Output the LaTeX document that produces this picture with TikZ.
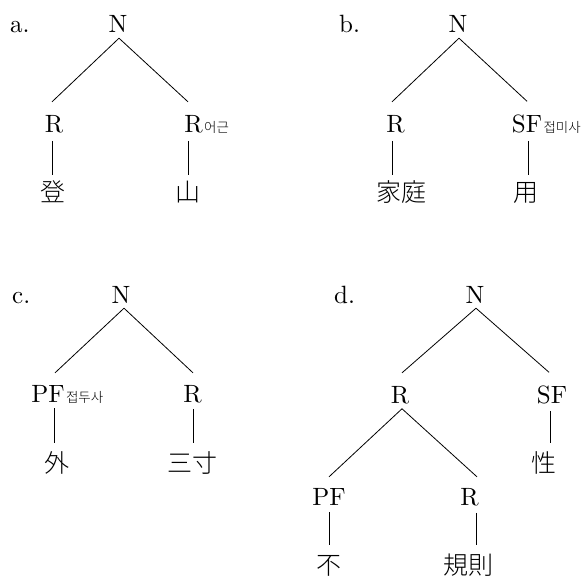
\documentclass[tikz,border=0pt]{standalone}
\usepackage{fontspec}
\newfontfamily\lmten{lmroman10-regular}[Extension=.otf]
\newfontfamily\cjk{Noto Sans CJK KR Light}
\begin{document}
\begin{tikzpicture}[x=1pt,y=-1pt,
 lab/.style={inner sep=0pt,anchor=base,font=\lmten\fontsize{25}{25}\selectfont},
 tag/.style={lab,anchor=base west},
 han/.style={inner sep=0pt,anchor=base,text height=21pt,text depth=0pt,font=\cjk\fontsize{25}{25}\selectfont},
 sub/.style={inner sep=0pt,anchor=base west,font=\cjk\fontsize{13.5}{13.5}\selectfont},
 edge/.style={line width=0.8pt}]
\useasboundingbox (0,0) rectangle (588,576);
% ---- a ----
\node[tag] (aL) at (10,32.5) {a.};
\node[lab] (aN) at (118,32.5) {N};
\node[lab] (aR1) at (54,132.5) {R};
\node[lab] (aR2) at (193.5,132.5) {R};
\node[sub] (aS2) at ([xshift=1pt]aR2.base east) {어근};
\node[han] (aH1) at (52.5,201) {登};
\node[han] (aH2) at (187.5,201) {山};
\draw[edge] ([xshift=1pt,yshift=-5.5pt]aN.south) -- ([xshift=-2pt,yshift=13.4pt]aR1.north);
\draw[edge] ([xshift=1pt,yshift=-5.5pt]aN.south) -- ([xshift=-5.5pt,yshift=13.4pt]aR2.north);
\draw[edge] ([xshift=-2pt,yshift=-7.5pt]aR1.south) -- ([xshift=-0.5pt,yshift=5pt]aH1.north);
\draw[edge] ([xshift=-5.5pt,yshift=-7.5pt]aR2.south) -- ([xshift=0.5pt,yshift=5pt]aH2.north);
% ---- b ----
\node[tag] (bL) at (339,32.5) {b.};
\node[lab] (bN) at (458,32.5) {N};
\node[lab] (bR1) at (395.5,132.5) {R};
\node[lab] (bSF) at (527,132.5) {SF};
\node[sub] (bS) at ([xshift=1pt]bSF.base east) {접미사};
\node[han] (bH1) at (401.5,201) {家庭};
\node[han] (bH2) at (526,201) {用};
\draw[edge] ([xshift=1pt,yshift=-5.5pt]bN.south) -- ([xshift=-3.5pt,yshift=13.4pt]bR1.north);
\draw[edge] ([xshift=1pt,yshift=-5.5pt]bN.south) -- ([xshift=0pt,yshift=13.4pt]bSF.north);
\draw[edge] ([xshift=-3.5pt,yshift=-7.5pt]bR1.south) -- ([xshift=-9.5pt,yshift=5pt]bH1.north);
\draw[edge] ([xshift=1pt,yshift=-7.5pt]bSF.south) -- ([xshift=2pt,yshift=5pt]bH2.north);
% ---- c ----
\node[tag] (cL) at (12,303) {c.};
\node[lab] (cN) at (121,303) {N};
\node[lab] (cPF) at (48,402.5) {PF};
\node[sub] (cS) at ([xshift=1pt]cPF.base east) {접두사};
\node[lab] (cR) at (192.5,402.5) {R};
\node[han] (cH1) at (57,472) {外};
\node[han] (cH2) at (192,472) {三寸};
\draw[edge] ([xshift=3pt,yshift=-5pt]cN.south) -- ([xshift=7pt,yshift=12.4pt]cPF.north);
\draw[edge] ([xshift=3pt,yshift=-5pt]cN.south) -- ([xshift=0.5pt,yshift=12.4pt]cR.north);
\draw[edge] ([xshift=6pt,yshift=-5.5pt]cPF.south) -- ([xshift=-3pt,yshift=8pt]cH1.north);
\draw[edge] ([xshift=0.5pt,yshift=-5.5pt]cR.south) -- ([xshift=1pt,yshift=8pt]cH2.north);
% ---- d ----
\node[tag] (dL) at (334,303) {d.};
\node[lab] (dN) at (475,303) {N};
\node[lab] (dR) at (400,403) {R};
\node[lab] (dSF) at (552,403) {SF};
\node[lab] (dPF) at (329,505) {PF};
\node[lab] (dR2) at (469.5,505) {R};
\node[han] (dH3) at (544,472) {性};
\node[han] (dH1) at (329,574) {不};
\node[han] (dH2) at (468,574) {規則};
\draw[edge] ([xshift=1pt,yshift=-5pt]dN.south) -- ([xshift=2pt,yshift=12.9pt]dR.north);
\draw[edge] ([xshift=1pt,yshift=-5pt]dN.south) -- ([xshift=-3pt,yshift=12.9pt]dSF.north);
\draw[edge] ([xshift=2pt,yshift=-5pt]dR.south) -- ([xshift=0pt,yshift=10.9pt]dPF.north);
\draw[edge] ([xshift=2pt,yshift=-5pt]dR.south) -- ([xshift=7.5pt,yshift=10.9pt]dR2.north);
\draw[edge] ([xshift=0pt,yshift=-7pt]dPF.south) -- ([xshift=0pt,yshift=8pt]dH1.north);
\draw[edge] ([xshift=6.5pt,yshift=-7pt]dR2.south) -- ([xshift=8pt,yshift=8pt]dH2.north);
\draw[edge] ([xshift=-2pt,yshift=-7pt]dSF.south) -- ([xshift=6pt,yshift=8pt]dH3.north);
\end{tikzpicture}
\end{document}
